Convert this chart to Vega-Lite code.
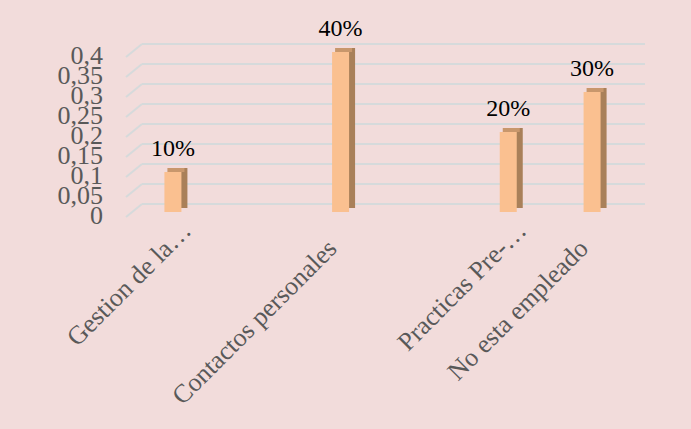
{
  "$schema": "https://vega.github.io/schema/vega-lite/v6.json",
  "autosize": "none",
  "width": 503,
  "height": 160,
  "padding": {"left": 142, "top": 44, "right": 46, "bottom": 225},
  "background": "#f2dcdb",
  "config": {"view": {"stroke": null}},
  "datasets": {
    "bars": [
      {"cat": "Gestion de la…", "v": 0.1, "lab": "10%"},
      {"cat": " ", "v": null, "lab": ""},
      {"cat": "Contactos personales", "v": 0.4, "lab": "40%"},
      {"cat": "  ", "v": null, "lab": ""},
      {"cat": "Practicas Pre-…", "v": 0.2, "lab": "20%"},
      {"cat": "No esta empleado", "v": 0.3, "lab": "30%"}
    ],
    "grid": [
      {"g": 0, "t": "0"}, {"g": 0.05, "t": "0,05"}, {"g": 0.1, "t": "0,1"},
      {"g": 0.15, "t": "0,15"}, {"g": 0.2, "t": "0,2"}, {"g": 0.25, "t": "0,25"},
      {"g": 0.3, "t": "0,3"}, {"g": 0.35, "t": "0,35"}, {"g": 0.4, "t": "0,4"}
    ]
  },
  "layer": [
    {
      "data": {"name": "grid"},
      "mark": {"type": "rule", "color": "#d6dadb", "strokeWidth": 2},
      "encoding": {
        "x": {"datum": "Gestion de la…", "type": "nominal", "bandPosition": 0,
          "scale": {"domain": ["Gestion de la…", " ", "Contactos personales", "  ", "Practicas Pre-…", "No esta empleado"], "paddingInner": 0, "paddingOuter": 0},
          "axis": {"title": null, "domain": false, "ticks": false, "grid": false,
            "labelAngle": -45, "labelAlign": "right", "labelBaseline": "middle",
            "labelFont": "Liberation Serif", "labelFontSize": 26, "labelColor": "#595959",
            "labelPadding": {"condition": {"test": "indexof(datum.label, '…') >= 0", "value": 22}, "value": 40},
            "labelOffset": {"condition": {"test": "indexof(datum.label, '…') >= 0", "value": 3}, "value": -19},
            "labelLimit": 0, "labelOverlap": false}},
        "x2": {"datum": "No esta empleado", "bandPosition": 1},
        "y": {"field": "g", "type": "quantitative", "scale": {"domain": [0, 0.4], "nice": false}, "axis": null},
        "y2": {"field": "g"}
      }
    },
    {
      "data": {"name": "grid"},
      "mark": {"type": "rule", "color": "#d6dadb", "strokeWidth": 2, "xOffset": -16, "yOffset": 13},
      "encoding": {
        "x": {"datum": "Gestion de la…", "type": "nominal", "bandPosition": 0},
        "x2": {"datum": "Gestion de la…", "bandPosition": 0},
        "y": {"field": "g", "type": "quantitative"},
        "y2": {"field": "g"}
      }
    },
    {
      "data": {"name": "grid"},
      "mark": {"type": "text", "font": "Liberation Serif", "fontSize": 26, "color": "#595959", "align": "right", "baseline": "middle", "dx": -39, "dy": 12},
      "encoding": {
        "x": {"datum": "Gestion de la…", "type": "nominal", "bandPosition": 0},
        "y": {"field": "g", "type": "quantitative"},
        "text": {"field": "t"}
      }
    },
    {
      "data": {"name": "bars"},
      "mark": {"type": "bar", "color": "#a98059", "size": 17, "xOffset": -5, "yOffset": 4, "y2Offset": 4},
      "encoding": {
        "x": {"field": "cat", "type": "nominal", "sort": null},
        "y": {"field": "v", "type": "quantitative"}
      }
    },
    {
      "data": {"name": "bars"},
      "mark": {"type": "bar", "color": "#c8976c", "size": 17, "xOffset": -8, "yOffset": 4, "y2Offset": 8},
      "encoding": {
        "x": {"field": "cat", "type": "nominal", "sort": null},
        "y": {"field": "v", "type": "quantitative"},
        "y2": {"field": "v"}
      }
    },
    {
      "data": {"name": "bars"},
      "mark": {"type": "bar", "color": "#fac090", "size": 17, "xOffset": -11, "yOffset": 8, "y2Offset": 8},
      "encoding": {
        "x": {"field": "cat", "type": "nominal", "sort": null},
        "y": {"field": "v", "type": "quantitative"}
      }
    },
    {
      "data": {"name": "bars"},
      "mark": {"type": "text", "font": "Liberation Serif", "fontSize": 24, "color": "#000000", "dx": -11, "dy": -8, "baseline": "alphabetic"},
      "encoding": {
        "x": {"field": "cat", "type": "nominal", "sort": null},
        "y": {"field": "v", "type": "quantitative"},
        "text": {"field": "lab"}
      }
    }
  ]
}
